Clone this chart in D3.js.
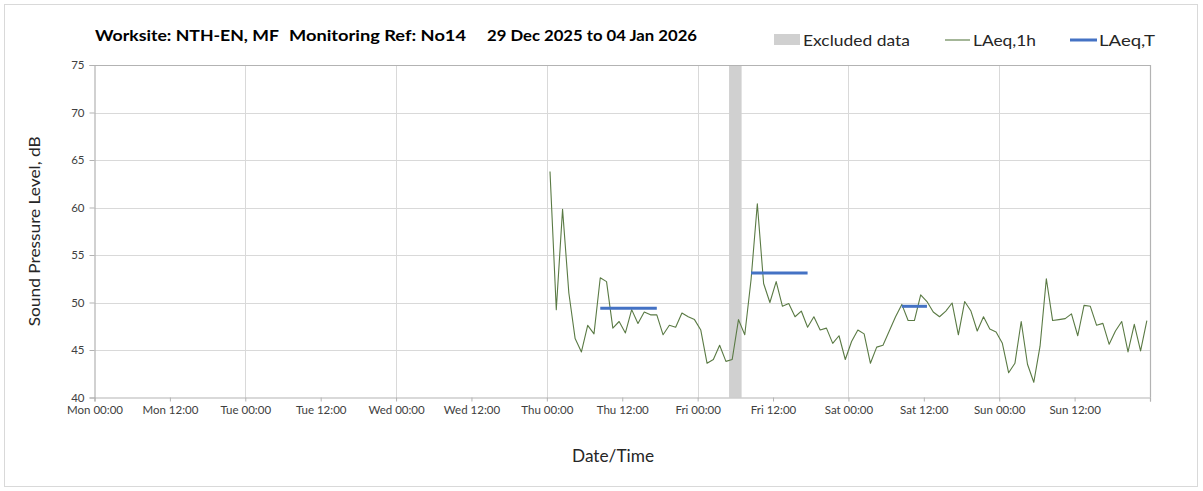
<!DOCTYPE html>
<html>
<head>
<meta charset="utf-8">
<script src="https://cdn.jsdelivr.net/npm/d3@7"></script>
<style>
  html, body { margin: 0; padding: 0; background: #fff; }
  svg { display: block; }
  text { font-family: Lato, "Open Sans", "Noto Sans", sans-serif; }
</style>
</head>
<body>
<svg id="chart" width="1203" height="491"></svg>
<script>
// ---- Data ----
const titleParts = ["Worksite: NTH-EN, MF", "Monitoring Ref: No14", "29 Dec 2025 to 04 Jan 2026"];
const legendLabels = ["Excluded data", "LAeq,1h", "LAeq,T"];
const yTicks = [40, 45, 50, 55, 60, 65, 70, 75];
const xDomain = ["2025-12-29T00:00:00Z", "2026-01-05T00:00:00Z"];
const xTickLabels = ["Mon 00:00", "Mon 12:00", "Tue 00:00", "Tue 12:00", "Wed 00:00", "Wed 12:00",
  "Thu 00:00", "Thu 12:00", "Fri 00:00", "Fri 12:00", "Sat 00:00", "Sat 12:00", "Sun 00:00", "Sun 12:00"];

// hourly LAeq,1h values, first point at Thu 01 Jan 2026 00:30
const laeq1hStart = "2026-01-01T00:30:00Z";
const laeq1h = [63.8, 49.25, 59.8, 51.0, 46.2, 44.8, 47.6, 46.7, 52.6, 52.2,
  47.3, 48.0, 46.8, 49.25, 47.8, 49.0, 48.7, 48.7, 46.6, 47.6,
  47.4, 48.9, 48.5, 48.2, 47.1, 43.6, 44.0, 45.5, 43.8, 44.0,
  48.2, 46.6, 52.4, 60.4, 52.0, 50.0, 52.2, 49.6, 49.9, 48.5,
  49.1, 47.4, 48.5, 47.1, 47.3, 45.7, 46.5, 44.0, 45.9, 47.1,
  46.7, 43.6, 45.3, 45.5, 47.0, 48.5, 49.8, 48.1, 48.1, 50.8,
  50.1, 49.0, 48.5, 49.1, 49.95, 46.6, 50.1, 49.1, 47.0, 48.5,
  47.2, 46.9, 45.7, 42.6, 43.6, 48.0, 43.5, 41.6, 45.4, 52.5,
  48.1, 48.2, 48.3, 48.8, 46.5, 49.7, 49.6, 47.6, 47.8, 45.6,
  47.0, 48.0, 44.8, 47.7, 44.9, 48.1];

// LAeq,T period values
const laeqTStart = ["2026-01-01T08:30:00Z", "2026-01-02T08:30:00Z", "2026-01-03T08:30:00Z"];
const laeqTEnd   = ["2026-01-01T17:30:00Z", "2026-01-02T17:30:00Z", "2026-01-03T12:30:00Z"];
const laeqTValue = [49.4, 53.1, 49.6];

// Excluded data period
const excludedStart = ["2026-01-02T05:00:00Z"];
const excludedEnd   = ["2026-01-02T07:00:00Z"];

// ---- Drawing ----
const svg = d3.select("#chart");
const plot = { left: 94.5, right: 1150, top: 65, bottom: 397.5 };

const x = d3.scaleUtc().domain(xDomain.map(d => new Date(d))).range([plot.left, plot.right]);
const y = d3.scaleLinear().domain([40, 75]).range([plot.bottom, plot.top]);

// outer frame
svg.append("rect").attr("x", 4.5).attr("y", 4.5).attr("width", 1193).attr("height", 482)
  .attr("fill", "#fff").attr("stroke", "#d9d9d9").attr("stroke-width", 1);

const startT = new Date(laeq1hStart).getTime();
const lineData = laeq1h.map((v, i) => ({ t: new Date(startT + i * 3600000), v }));

// gridlines
const grid = svg.append("g");
grid.selectAll("line.h").data(yTicks.filter(d => d !== 40 && d !== 75)).join("line")
  .attr("x1", plot.left).attr("x2", plot.right)
  .attr("y1", d => Math.round(y(d)) + 0.5).attr("y2", d => Math.round(y(d)) + 0.5)
  .attr("stroke", "#d9d9d9").attr("stroke-width", 1);

const dayTicks = d3.utcDay.range(new Date(xDomain[0]), new Date(xDomain[1])).slice(1);
grid.selectAll("line.v").data(dayTicks).join("line")
  .attr("x1", d => Math.round(x(d)) + 0.5).attr("x2", d => Math.round(x(d)) + 0.5)
  .attr("y1", plot.top).attr("y2", plot.bottom)
  .attr("stroke", "#d9d9d9").attr("stroke-width", 1);

// excluded band
svg.append("g").selectAll("rect").data(excludedStart.map((s, i) => [new Date(s), new Date(excludedEnd[i])]))
  .join("rect")
  .attr("x", d => x(d[0])).attr("width", d => x(d[1]) - x(d[0]))
  .attr("y", plot.top).attr("height", plot.bottom - plot.top)
  .attr("fill", "#d0d0d0");

// plot border (top & right)
svg.append("path")
  .attr("d", `M${plot.left},${plot.top + 0.5}H${plot.right + 0.5}V${plot.bottom}`)
  .attr("fill", "none").attr("stroke", "#b3b3b3").attr("stroke-width", 1.2);

// axes
const xTickDates = d3.utcHour.every(12).range(new Date(xDomain[0]), new Date(new Date(xDomain[1]).getTime() + 1));
const xAxis = d3.axisBottom(x).tickValues(xTickDates)
  .tickFormat((d, i) => xTickLabels[i] !== undefined ? xTickLabels[i] : "")
  .tickSize(4).tickPadding(4);
const gx = svg.append("g").attr("transform", `translate(0,${plot.bottom})`).call(xAxis);
gx.select(".domain").attr("stroke", "#b3b3b3").attr("stroke-width", 1.2);
gx.selectAll(".tick line").attr("stroke", "#b3b3b3");
gx.selectAll(".tick text").attr("fill", "#404040").style("font-size", "11.5px")
  .style("font-family", "Lato, 'Open Sans', sans-serif");

const yAxis = d3.axisLeft(y).tickValues(yTicks).tickFormat(d3.format("d")).tickSize(5).tickPadding(5);
const gy = svg.append("g").attr("transform", `translate(${plot.left},0)`).call(yAxis);
gy.select(".domain").attr("stroke", "#b3b3b3").attr("stroke-width", 1.2);
gy.selectAll(".tick line").attr("stroke", "#b3b3b3");
gy.selectAll(".tick text").attr("fill", "#404040").style("font-size", "11.5px")
  .style("font-family", "Lato, 'Open Sans', sans-serif");

// LAeq,1h line
svg.append("path").datum(lineData)
  .attr("d", d3.line().x(d => x(d.t)).y(d => y(d.v)))
  .attr("fill", "none").attr("stroke", "#5a7a44").attr("stroke-width", 1.1)
  .attr("stroke-linejoin", "round");

// LAeq,T segments
svg.append("g").selectAll("line").data(laeqTValue.map((v, i) => ({ s: new Date(laeqTStart[i]), e: new Date(laeqTEnd[i]), v })))
  .join("line")
  .attr("x1", d => x(d.s)).attr("x2", d => x(d.e))
  .attr("y1", d => y(d.v)).attr("y2", d => y(d.v))
  .attr("stroke", "#4472c4").attr("stroke-width", 3);

// title
const titleX = [95, 289, 487];
const titleW = [184, 177, 210];
svg.append("g").selectAll("text").data(titleParts).join("text")
  .attr("x", (d, i) => titleX[i]).attr("y", 41)
  .attr("textLength", (d, i) => titleW[i]).attr("lengthAdjust", "spacingAndGlyphs")
  .style("font-size", "16px").style("font-weight", "bold").attr("fill", "#000")
  .text(d => d);

// legend
const lg = svg.append("g");
lg.append("rect").attr("x", 774).attr("y", 34).attr("width", 26).attr("height", 11).attr("fill", "#d0d0d0");
lg.append("line").attr("x1", 945).attr("x2", 970).attr("y1", 40).attr("y2", 40)
  .attr("stroke", "#5a7a44").attr("stroke-width", 1.1);
lg.append("line").attr("x1", 1070).attr("x2", 1097).attr("y1", 40).attr("y2", 40)
  .attr("stroke", "#4472c4").attr("stroke-width", 3);
const legX = [803, 973, 1099];
const legW = [107, 63, 56];
lg.selectAll("text").data(legendLabels).join("text")
  .attr("x", (d, i) => legX[i]).attr("y", 46)
  .attr("textLength", (d, i) => legW[i]).attr("lengthAdjust", "spacingAndGlyphs")
  .style("font-size", "16px").attr("fill", "#262626")
  .text(d => d);

// axis titles
svg.append("text").attr("transform", `translate(40,${(plot.top + plot.bottom) / 2}) rotate(-90)`)
  .attr("text-anchor", "middle").style("font-size", "16px").attr("fill", "#262626")
  .attr("textLength", 190).attr("lengthAdjust", "spacingAndGlyphs")
  .text("Sound Pressure Level, dB");
svg.append("text").attr("x", 613).attr("y", 462).attr("text-anchor", "middle")
  .style("font-size", "16.5px").attr("fill", "#262626")
  .attr("textLength", 82).attr("lengthAdjust", "spacingAndGlyphs")
  .text("Date/Time");
</script>
</body>
</html>
